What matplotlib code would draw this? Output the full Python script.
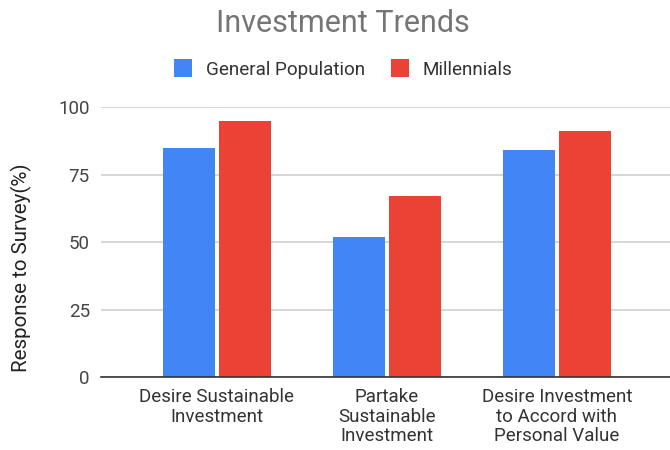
import numpy as np
import matplotlib.pyplot as plt
from matplotlib.patches import Patch

plt.rcParams['font.family'] = ['Roboto', 'DejaVu Sans']

categories = ["Desire Sustainable\nInvestment",
              "Partake\nSustainable\nInvestment",
              "Desire Investment\nto Accord with\nPersonal Value"]
general_population = [85, 52, 84]
millennials = [95, 67, 91]
yticks = [0, 25, 50, 75, 100]

blue = "#4285F4"
red = "#EA4335"

fig = plt.figure(figsize=(6.7, 4.5), dpi=100)
ax = fig.add_axes([0.1507, 0.1622, 0.8493, 0.6000])

x = np.arange(len(categories))
w = 0.306
ax.bar(x - 0.165, general_population, w, color=blue, zorder=3)
ax.bar(x + 0.165, millennials, w, color=red, zorder=3)

ax.set_xlim(-0.682, 2.665)
ax.set_ylim(0, 100)
ax.set_yticks(yticks)
ax.set_xticks(x)
ax.set_xticklabels(categories, fontsize=13.5, color="#333333", linespacing=1.12)
ax.tick_params(axis='y', labelsize=13.5, colors="#444444", length=0, pad=8)
ax.tick_params(axis='x', length=0, pad=8)

ax.grid(axis='y', color="#d0d0d0", linewidth=1.2, zorder=0)
for s in ['top', 'right', 'left']:
    ax.spines[s].set_visible(False)
ax.spines['bottom'].set_color("#333333")
ax.spines['bottom'].set_linewidth(1.2)
ax.spines['bottom'].set_zorder(4)

ax.set_ylabel("Response to Survey(%)", fontsize=14.8, color="#222222")
ax.yaxis.set_label_coords(-0.122, 0.405)

fig.text(0.512, 0.948, "Investment Trends", ha='center', va='center',
         fontsize=22, color="#757575")

handles = [Patch(facecolor=blue, label="General Population"),
           Patch(facecolor=red, label="Millennials")]
fig.legend(handles=handles, loc='center', bbox_to_anchor=(0.512, 0.847), ncol=2,
           frameon=False, fontsize=13.6, handlelength=0.95, handleheight=1.1,
           columnspacing=1.37, handletextpad=0.74, labelcolor="#333333")

fig.savefig("out.png", dpi=100)
